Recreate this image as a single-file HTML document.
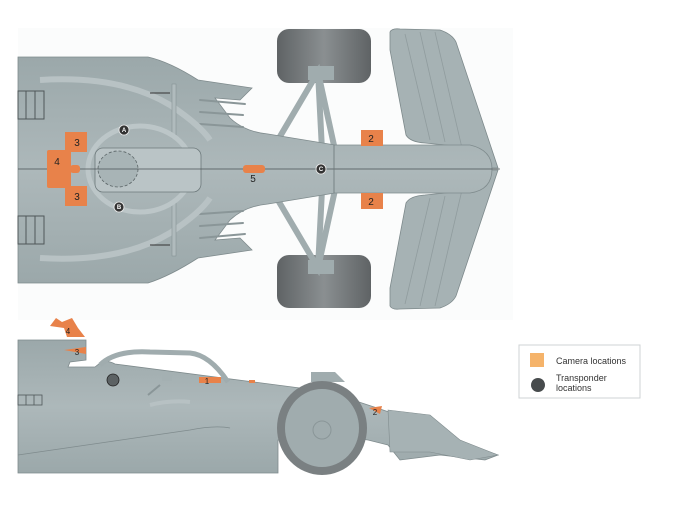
<!DOCTYPE html>
<html><head><meta charset="utf-8"><style>
html,body{margin:0;padding:0;background:#fff;width:683px;height:526px;overflow:hidden}
svg{display:block}
text{font-family:"Liberation Sans",sans-serif}
</style></head><body>
<svg width="683" height="526" viewBox="0 0 683 526" xmlns="http://www.w3.org/2000/svg">
<defs>
<linearGradient id="tg" x1="0" y1="0" x2="0" y2="1">
<stop offset="0" stop-color="#9ba8aa"/><stop offset="0.5" stop-color="#adb8ba"/><stop offset="1" stop-color="#9ba8aa"/></linearGradient>
<linearGradient id="tyre" x1="0" y1="0" x2="1" y2="0">
<stop offset="0" stop-color="#5f6365"/><stop offset="0.5" stop-color="#8a8f91"/><stop offset="1" stop-color="#5f6365"/></linearGradient>
</defs>
<rect x="18" y="28" width="495" height="292" fill="#fbfcfc"/>
<!-- TOP VIEW -->
<rect x="277" y="29" width="94" height="54" rx="12" fill="url(#tyre)"/>
<rect x="277" y="255" width="94" height="53" rx="12" fill="url(#tyre)"/>
<g stroke="#a0acae" stroke-width="6" fill="none" stroke-linecap="round">
<path d="M272 150 L318 72 L335 150"/><path d="M272 190 L318 268 L335 190"/>
<path d="M318 72 L322 150"/><path d="M318 268 L322 190"/>
</g>
<rect x="308" y="66" width="26" height="14" fill="#a0acae"/>
<rect x="308" y="260" width="26" height="14" fill="#a0acae"/>
<path d="M390 32 Q392 28 400 29 L440 30 Q452 34 456 42 L498 168 L480 168 Q470 150 455 146 L425 143 Q410 142 406 135 L390 50 Z" fill="#a6b2b4" stroke="#7d898b" stroke-width="0.8"/>
<path d="M390 306 Q392 310 400 309 L440 308 Q452 304 456 296 L498 170 L480 170 Q470 188 455 192 L425 195 Q410 196 406 203 L390 288 Z" fill="#a6b2b4" stroke="#7d898b" stroke-width="0.8"/>
<g stroke="#909c9e" stroke-width="0.8" fill="none">
<path d="M405 34 L430 140"/><path d="M420 32 L445 142"/><path d="M435 32 L462 148"/>
<path d="M405 304 L430 198"/><path d="M420 306 L445 196"/><path d="M435 306 L462 190"/>
</g>
<path d="M18 57 L148 57 Q170 62 198 80 L252 88 L240 100 L215 98 L230 118 Q245 132 268 134 L335 145 L470 145 Q492 150 492 169 Q492 190 470 193 L335 193 L268 204 Q245 206 230 220 L215 240 L240 238 L252 250 L198 258 Q170 276 148 283 L18 283 Z" fill="url(#tg)" stroke="#7f8b8d" stroke-width="0.8"/>
<g stroke="#8a9698" stroke-width="2" stroke-linecap="round">
<path d="M200 100 L245 104"/><path d="M200 112 L243 115"/><path d="M200 124 L243 127"/>
<path d="M200 238 L245 234"/><path d="M200 226 L243 223"/><path d="M200 214 L243 211"/>
</g>
<path d="M40 80 Q120 75 170 105 Q200 125 210 140" fill="none" stroke="#b8c2c4" stroke-width="6"/>
<path d="M40 258 Q120 263 170 233 Q200 213 210 198" fill="none" stroke="#b8c2c4" stroke-width="6"/>
<g fill="none" stroke="#4f5759" stroke-width="1">
<rect x="18" y="91" width="26" height="28"/><path d="M26 91v28M35 91v28"/>
<rect x="18" y="216" width="26" height="28"/><path d="M26 216v28M35 216v28"/>
</g>
<rect x="172" y="84" width="4" height="54" fill="#b0bbbd" stroke="#7f8b8d" stroke-width="0.5"/>
<rect x="172" y="202" width="4" height="54" fill="#b0bbbd" stroke="#7f8b8d" stroke-width="0.5"/>
<path d="M150 93 L170 93 M150 245 L170 245" stroke="#333" stroke-width="1"/>
<ellipse cx="140" cy="169" rx="52" ry="43" fill="none" stroke="#bcc6c8" stroke-width="5"/>
<rect x="95" y="148" width="106" height="44" rx="8" fill="#bac4c6" stroke="#6d797b" stroke-width="0.8"/>
<ellipse cx="118" cy="169" rx="20" ry="18" fill="#a8b4b6" stroke="#5a6466" stroke-width="0.8" stroke-dasharray="3 2"/>
<line x1="18" y1="169" x2="500" y2="169" stroke="#4a5254" stroke-width="0.8"/>
<line x1="334" y1="145" x2="334" y2="193" stroke="#6a7678" stroke-width="0.8"/>
<g fill="#e8824a">
<rect x="65" y="132" width="22" height="20"/><rect x="65" y="186" width="22" height="20"/>
<rect x="47" y="150" width="24" height="38" rx="2"/><rect x="70" y="165" width="10" height="8" rx="3"/>
<rect x="243" y="165" width="22" height="8" rx="3"/>
<rect x="361" y="130" width="22" height="16"/><rect x="361" y="193" width="22" height="16"/>
</g>
<g font-size="10" fill="#222" text-anchor="middle">
<text x="77" y="146">3</text><text x="77" y="200">3</text><text x="57" y="165">4</text>
<text x="253" y="182">5</text><text x="371" y="142">2</text><text x="371" y="205">2</text>
</g>
<g fill="#333" stroke="#eee" stroke-width="0.8">
<circle cx="124" cy="130" r="5"/><circle cx="119" cy="207" r="5"/><circle cx="321" cy="169" r="5"/>
</g>
<g font-size="6" fill="#fff" text-anchor="middle" font-weight="bold">
<text x="124" y="132">A</text><text x="119" y="209">B</text><text x="321" y="171">C</text>
</g>
<!-- SIDE VIEW -->
<path d="M18 340 L86 340 L86 360 L70 362 L68 367 L95 367 Q105 358 115 364 L300 388 Q330 392 368 405 Q430 425 470 445 L498 455 L485 460 L440 455 L400 460 L388 445 L368 440 L330 435 L278 440 L278 473 L18 473 Z" fill="url(#tg)" stroke="#7f8b8d" stroke-width="0.8"/>
<path d="M100 365 Q115 350 150 352 L190 353 Q210 355 228 382" fill="none" stroke="#a0acae" stroke-width="5"/>
<path d="M160 385 L148 395" stroke="#8a9698" stroke-width="2"/>
<rect x="162" y="373" width="10" height="8" fill="#a4b0b2"/>
<path d="M311 382 L311 372 L335 372 L345 382 Z" fill="#a0acae"/>
<path d="M388 410 L430 415 L460 440 L498 455 L470 460 L430 452 L390 452 Z" fill="#a6b2b4" stroke="#808c8e" stroke-width="0.6"/>
<path d="M18 455 Q120 440 190 430 Q215 425 230 428" fill="none" stroke="#7f8b8d" stroke-width="0.8"/>
<path d="M150 405 Q170 400 190 402" stroke="#b7c1c3" stroke-width="4" fill="none"/>
<g fill="none" stroke="#4f5759" stroke-width="0.8">
<rect x="18" y="395" width="24" height="10"/><path d="M26 395v10M34 395v10"/>
</g>
<ellipse cx="322" cy="428" rx="45" ry="47" fill="#7a8082"/>
<ellipse cx="322" cy="428" rx="37" ry="39" fill="#a0acae"/>
<circle cx="322" cy="430" r="9" fill="none" stroke="#8a9698" stroke-width="1"/>
<path d="M50 326 L56 318 L62 322 L72 318 L78 328 L85 337 L67 337 L64 328 Z" fill="#e8824a"/>
<path d="M64 350 L86 347 L86 354 Z" fill="#e8824a"/>
<rect x="199" y="377" width="22" height="6" fill="#e8824a"/>
<rect x="249" y="380" width="6" height="3" fill="#e8824a"/>
<path d="M369 408 L382 406 L380 414 Z" fill="#e8824a"/>
<circle cx="113" cy="380" r="6" fill="#5c6264" stroke="#222" stroke-width="0.8"/>
<g font-size="8" fill="#222" text-anchor="middle">
<text x="68" y="334">4</text><text x="77" y="355">3</text><text x="207" y="384">1</text><text x="375" y="415">2</text>
</g>
<rect x="519" y="345" width="121" height="53" fill="#fff" stroke="#cfd3d4" stroke-width="1"/>
<rect x="530" y="353" width="14" height="14" fill="#f5b36a"/>
<circle cx="538" cy="385" r="7" fill="#474b4d"/>
<g font-size="9" fill="#333">
<text x="556" y="364">Camera locations</text>
<text x="556" y="381">Transponder</text>
<text x="556" y="391">locations</text>
</g>
</svg>
</body></html>
